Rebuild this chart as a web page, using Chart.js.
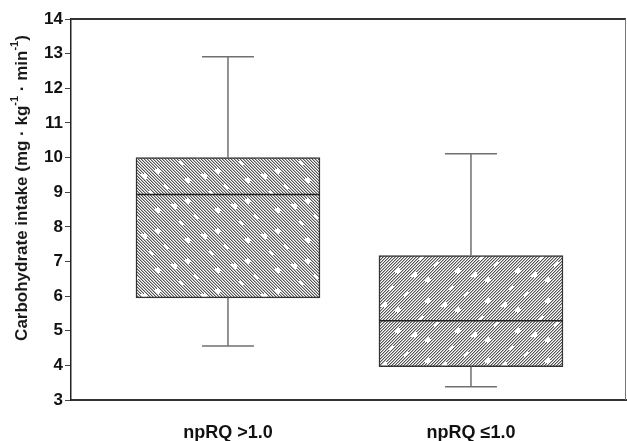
<!DOCTYPE html>
<html>
<head>
<meta charset="utf-8">
<script src="https://cdn.jsdelivr.net/npm/chart.js@4.4.0/dist/chart.umd.min.js"></script>
<style>
  html, body { margin: 0; padding: 0; background: #fff; }
  #wrap { width: 627px; height: 441px; }
</style>
</head>
<body>
<div id="wrap"><canvas id="boxChart" width="627" height="441"></canvas></div>
<script>
// Box plot values
var groups      = ["npRQ >1.0", "npRQ \u22641.0"];
var positions   = [1, 2];
var whiskerLow  = [4.56, 3.38];
var quartile1   = [5.95, 3.96];
var medians     = [8.93, 5.29];
var quartile3   = [10.0, 7.17];
var whiskerHigh = [12.91, 10.11];
var yTicks      = [3, 4, 5, 6, 7, 8, 9, 10, 11, 12, 13, 14];

// Hatch fill like the printed figure: "\\\" for the first box, "///" for the second
function makeHatch(dir)
{
    var size = 60;
    var c    = document.createElement("canvas");
    c.width  = size;
    c.height = size;
    var g    = c.getContext("2d");
    g.fillStyle = "#fff";
    g.fillRect(0, 0, size, size);

    // short white breaks along the hatch lines: [line index, start, length]
    var breaks = [[2, 5, 9], [3, 7, 7], [9, 30, 10], [10, 33, 6], [15, 48, 8], [16, 50, 7], [6, 80, 8], [13, 95, 9]];

    for (var y = 0; y < size; y++)
    {
        for (var x = 0; x < size; x++)
        {
            var k     = dir > 0 ? (x + y) % size : (x - y + size) % size;
            var along = dir > 0 ? (x - y + size) % size : (x + y) % size;
            var line  = Math.floor(k / 3);
            var skip  = false;

            breaks.forEach(function (b)
            {
                var s = b[1] % (size * 2);
                if (line === b[0] && ((along * 2 - s + size * 2) % (size * 2)) < b[2] * 2)
                {
                    skip = true;
                }
            });
            if (skip)
            {
                continue;
            }

            if (k % 3 === 0)
            {
                g.fillStyle = "#555";
                g.fillRect(x, y, 1, 1);
            }
            else if (k % 3 === 1)
            {
                g.fillStyle = "#b4b4b4";
                g.fillRect(x, y, 1, 1);
            }
        }
    }

    return c.getContext("2d").createPattern(c, "repeat");
}

var hatches = [makeHatch(-1), makeHatch(1)];

// Whiskers, caps, medians and the frame, all placed through the chart scales
var boxExtras = {
    id: "boxExtras",
    afterDatasetsDraw: function (chart)
    {
        var ctx  = chart.ctx;
        var xs   = chart.scales.x;
        var ys   = chart.scales.y;
        var bars = chart.getDatasetMeta(0).data;

        ctx.save();
        for (var i = 0; i < positions.length; i++)
        {
            var cx   = xs.getPixelForValue(positions[i]);
            var half = bars[i].width / 2;

            ctx.strokeStyle = "#707070";
            ctx.lineWidth   = 1.5;
            ctx.beginPath();
            ctx.moveTo(cx, ys.getPixelForValue(quartile3[i]));
            ctx.lineTo(cx, ys.getPixelForValue(whiskerHigh[i]));
            ctx.moveTo(cx, ys.getPixelForValue(quartile1[i]));
            ctx.lineTo(cx, ys.getPixelForValue(whiskerLow[i]));
            ctx.stroke();

            ctx.beginPath();
            ctx.moveTo(cx - 26, ys.getPixelForValue(whiskerHigh[i]));
            ctx.lineTo(cx + 26, ys.getPixelForValue(whiskerHigh[i]));
            ctx.moveTo(cx - 26, ys.getPixelForValue(whiskerLow[i]));
            ctx.lineTo(cx + 26, ys.getPixelForValue(whiskerLow[i]));
            ctx.stroke();

            ctx.strokeStyle = "#222";
            ctx.lineWidth   = 1.5;
            ctx.beginPath();
            ctx.moveTo(cx - half, ys.getPixelForValue(medians[i]));
            ctx.lineTo(cx + half, ys.getPixelForValue(medians[i]));
            ctx.stroke();
        }

        // top and right sides of the frame
        var a = chart.chartArea;
        ctx.strokeStyle = "#333";
        ctx.lineWidth   = 2;
        ctx.beginPath();
        ctx.moveTo(a.left, a.top);
        ctx.lineTo(a.right, a.top);
        ctx.stroke();
        ctx.strokeStyle = "#777";
        ctx.lineWidth   = 1;
        ctx.beginPath();
        ctx.moveTo(a.right - 0.5, a.top);
        ctx.lineTo(a.right - 0.5, a.bottom);
        ctx.stroke();
        ctx.restore();
    }
};

// y axis title with real superscripts
var yTitle = {
    id: "yTitle",
    afterDraw: function (chart)
    {
        var parts = [
            {t: "Carbohydrate intake (mg \u00b7 kg", sup: false},
            {t: "-1", sup: true},
            {t: " \u00b7 min", sup: false},
            {t: "-1", sup: true},
            {t: ")", sup: false}
        ];
        var ctx   = chart.ctx;
        var big   = "bold 17px 'Liberation Sans', Arial, sans-serif";
        var small = "bold 11px 'Liberation Sans', Arial, sans-serif";
        var total = 0;

        ctx.save();
        parts.forEach(function (p)
        {
            ctx.font = p.sup ? small : big;
            p.w      = ctx.measureText(p.t).width;
            total   += p.w;
        });

        ctx.translate(22, 188);
        ctx.rotate(-Math.PI / 2);
        ctx.fillStyle    = "#1a1a1a";
        ctx.textBaseline = "middle";
        ctx.textAlign    = "left";
        var x = -total / 2;
        parts.forEach(function (p)
        {
            ctx.font = p.sup ? small : big;
            ctx.fillText(p.t, x, p.sup ? -7 : 0);
            x += p.w;
        });
        ctx.restore();
    }
};

var boxData = positions.map(function (p, i)
{
    return {x: p, y: [quartile1[i], quartile3[i]]};
});

new Chart(document.getElementById("boxChart"), {
    type:    "bar",
    data:    {
        datasets: [
            {
                data:            boxData,
                backgroundColor: hatches,
                borderColor:     "#333",
                borderWidth:     1.5,
                borderSkipped:   false,
                barThickness:    184
            }
        ]
    },
    options: {
        responsive: false,
        animation:  false,
        layout:     {
            padding: {top: 19, right: 1, left: 0, bottom: 0}
        },
        plugins:    {
            legend:  {display: false},
            tooltip: {enabled: false}
        },
        scales:     {
            x: {
                type:            "linear",
                offset:          false,
                min:             0.354,
                max:             2.638,
                afterFit:        function (scale) { scale.height = 41; },
                afterBuildTicks: function (scale)
                {
                    scale.ticks = positions.map(function (p) { return {value: p}; });
                },
                ticks:           {
                    padding:  22,
                    color:    "#111",
                    font:     {family: "'Liberation Sans', Arial, sans-serif", size: 18, weight: "bold"},
                    callback: function (value) { return groups[positions.indexOf(value)]; }
                },
                grid:            {offset: false, drawOnChartArea: false, drawTicks: false},
                border:          {color: "#333", width: 2}
            },
            y: {
                min:             3,
                max:             14,
                afterFit:        function (scale) { scale.width = 71; },
                afterBuildTicks: function (scale)
                {
                    scale.ticks = yTicks.map(function (v) { return {value: v}; });
                },
                ticks:           {
                    padding: 2,
                    color:   "#111",
                    font:    {family: "'Liberation Sans', Arial, sans-serif", size: 17, weight: "bold"}
                },
                grid:            {drawOnChartArea: false, tickLength: 6, tickColor: "#444"},
                border:          {color: "#222", width: 1.5}
            }
        }
    },
    plugins: [boxExtras, yTitle]
});
</script>
</body>
</html>
